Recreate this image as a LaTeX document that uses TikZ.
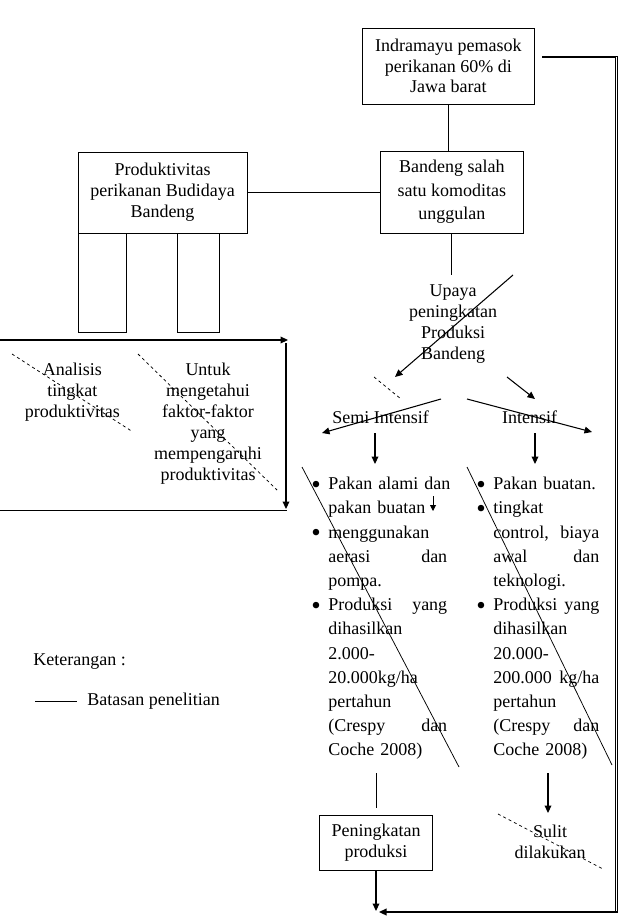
\documentclass[tikz,border=0pt]{standalone}
\usepackage{fontspec}
\setmainfont{Liberation Serif}
\usetikzlibrary{arrows.meta}
\tikzset{
  box/.style={draw, line width=0.5pt, inner sep=0pt, align=center, font=\fontsize{12}{13.8}\selectfont},
  txt/.style={inner sep=0pt, align=center, font=\fontsize{12}{13.8}\selectfont},
  listtxt/.style={inner sep=0pt, align=left, anchor=north west, font=\fontsize{12}{16.13}\selectfont},
  arr/.style={line width=0.7pt, -{Triangle[length=5pt,width=4.5pt]}},
  smallarr/.style={line width=0.6pt, -{Triangle[length=4pt,width=4pt]}},
  thinline/.style={line width=0.5pt},
  dashline/.style={line width=0.5pt, dash pattern=on 2pt off 2pt},
  returnline/.style={line width=0.6pt},
}
\newcommand\bul{\leavevmode\llap{\smash{\raisebox{-2.2pt}{\fontsize{18}{18}\selectfont•}}\hspace{5pt}}}
\newcommand\jl[2]{\leavevmode\hbox to\hsize{#1\hfill #2}}
\newcommand\fl[1]{\leavevmode\hbox to\hsize{#1}}
\begin{document}
\begin{tikzpicture}[x=0.6667pt,y=-0.6667pt]
\useasboundingbox (0,0) rectangle (622,919);

% boxes
\node[box, minimum width=114.2pt, minimum height=50.7pt] (ind) at (448.4,66)
  {Indramayu pemasok\\perikanan 60\% di\\Jawa barat};
\node[box, minimum width=95.8pt, minimum height=54.7pt, font=\fontsize{12}{15.7}\selectfont] (band) at (451.8,192)
  {Bandeng salah\\satu komoditas\\unggulan};
\node[box, minimum width=112.7pt, minimum height=54pt, font=\fontsize{12}{14}\selectfont] (prod) at (162.5,192.5)
  {Produktivitas\\perikanan Budidaya\\Bandeng};
\node[box, minimum width=75.3pt, minimum height=36.7pt, font=\fontsize{12}{14}\selectfont] (pen) at (376,842.5)
  {Peningkatan\\produksi};

% two small rectangles under Produktivitas
\draw[thinline] (78,233) rectangle (126,332);
\draw[thinline] (177,233) rectangle (219,332);

% plain texts
\node[txt] (upaya) at (453,324) {Upaya\\peningkatan\\Produksi\\Bandeng};
\node[txt] (semi) at (380.5,417) {Semi Intensif};
\node[txt] (intensif) at (529.7,417) {Intensif};
\node[txt, font=\fontsize{12}{14}\selectfont] (anal) at (72.3,392) {Analisis\\tingkat\\produktivitas};
\node[txt, font=\fontsize{12}{14}\selectfont] (untuk) at (208,423.5) {Untuk\\mengetahui\\faktor-faktor\\yang\\mempengaruhi\\produktivitas};
\node[txt, font=\fontsize{12}{14}\selectfont] (sulit) at (550,842) {Sulit\\dilakukan};

% lists
\node[listtxt, text width=79.3pt] (semilist) at (328,477) {%
\bul\fl{Pakan alami dan}\\
pakan buatan\\
\bul menggunakan\\
\jl{aerasi}{dan}\\
pompa.\\
\bul\jl{Produksi}{yang}\\
dihasilkan\\
2.000-\\
20.000kg/ha\\
pertahun\\
\jl{(Crespy}{dan}\\
Coche 2008)};
\node[listtxt, text width=70.7pt] (intlist) at (493,477) {%
\bul Pakan buatan.\\
\bul tingkat\\
\jl{control,}{biaya}\\
\jl{awal}{dan}\\
teknologi.\\
\bul\jl{Produksi}{yang}\\
dihasilkan\\
20.000-\\
\jl{200.000}{kg/ha}\\
pertahun\\
\jl{(Crespy}{dan}\\
Coche 2008)};

% legend
\node[txt, anchor=west] (ket) at (33,662) {Keterangan :};
\coordinate (legA) at (35,701);
\coordinate (legB) at (77,701);
\draw[thinline] (legA) -- (legB);
\node[txt, anchor=west] (batas) at (87,701) {Batasan penelitian};

% connectors between boxes
\draw[thinline] (ind.south) -- (ind.south |- band.north);
\draw[thinline] (prod.east) -- (prod.east -| band.west);
\coordinate (utop) at (451.8,275);
\draw[thinline] (band.south) -- (utop);

% diagonal arrow through Upaya
\coordinate (dA) at (513,275);
\coordinate (dB) at (395,377);
\draw[arr] (dA) -- (dB);
\coordinate (ds1) at (374,377);
\coordinate (ds2) at (401,399);
\draw[dashline] (ds1) -- (ds2);
\coordinate (rA) at (507,377);
\coordinate (rB) at (535,399);
\draw[arr] (rA) -- (rB);

% crossing arrows at Semi Intensif / Intensif
\coordinate (sA) at (441,399);
\coordinate (sB) at (322,433);
\draw[arr] (sA) -- (sB);
\coordinate (iA) at (467,399);
\coordinate (iB) at (592,432);
\draw[arr] (iA) -- (iB);

% down arrows to lists
\coordinate (sd1) at (375,433);
\coordinate (sd2) at (375,464);
\draw[arr] (sd1) -- (sd2);
\coordinate (id1) at (535,433);
\coordinate (id2) at (535,464);
\draw[arr] (id1) -- (id2);
\coordinate (sm1) at (433,496);
\coordinate (sm2) at (433,511);
\draw[smallarr] (sm1) -- (sm2);

% diagonal strike lines over the lists
\coordinate (l1a) at (302,467);
\coordinate (l1b) at (459,767);
\draw[thinline] (l1a) -- (l1b);
\coordinate (l2a) at (467,467);
\coordinate (l2b) at (612,765);
\draw[thinline] (l2a) -- (l2b);

% below lists
\coordinate (pl) at (pen.north |- 0,773);
\draw[thinline] (pl) -- (pl |- 0,808);
\coordinate (sa) at (548,773);
\coordinate (sb) at (548,813);
\draw[arr] (sa) -- (sb);
\coordinate (sul1) at (498,814);
\coordinate (sul2) at (603,869);
\draw[dashline] (sul1) -- (sul2);

% bottom return path
\coordinate (corner) at (pen.south |- 0,911);
\draw[arr] (pen.south) -- (corner);
\coordinate (oA) at (542,56.3);
\coordinate (oB) at (615.8,912);
\coordinate (oA2) at (542,57.7);
\coordinate (oB2) at (617.8,912);
\draw[returnline] (oA) -| (oB2);
\draw[returnline] (oA2) -| (oB);
\coordinate (bend) at (379,912);
\draw[arr, line width=0.9pt] (oB2) -- (bend);

% left bracket
\coordinate (bt0) at (0,340);
\coordinate (bt1) at (288,340);
\draw[arr] (bt0) -- (bt1);
\coordinate (bv0) at (286,343);
\coordinate (bv1) at (286,509);
\draw[arr] (bv0) -- (bv1);
\coordinate (bb0) at (0,510.5);
\coordinate (bb1) at (287,510.5);
\draw[line width=0.7pt] (bb0) -- (bb1);

% dashed strikes on left texts
\coordinate (a1) at (12,354);
\coordinate (a2) at (133,432);
\draw[dashline] (a1) -- (a2);
\coordinate (u1) at (138,354);
\coordinate (u2) at (277,490);
\draw[dashline] (u1) -- (u2);
\end{tikzpicture}
\end{document}
